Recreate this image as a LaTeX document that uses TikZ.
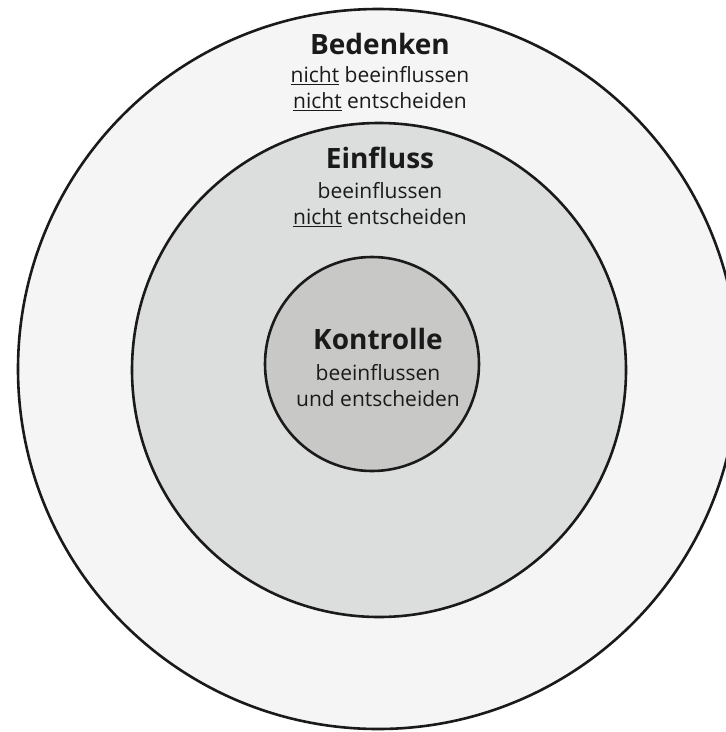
\documentclass[tikz,border=0pt]{standalone}
\usepackage{fontspec}
\setmainfont{Open Sans}
\usepackage{tikz}
\usetikzlibrary{positioning}

\definecolor{outerfill}{HTML}{F5F5F5}
\definecolor{midfill}{HTML}{DCDEDD}
\definecolor{innerfill}{HTML}{C8C9C7}
\definecolor{ink}{HTML}{1A1A1A}

\begin{document}
\begin{tikzpicture}
	[
		x=1pt, y=-1pt,
		ring/.style = {circle, draw=ink, line width=2.6pt, inner sep=0pt},
		H/.style = {align=center, text=ink, font=\bfseries\fontsize{28}{30}\selectfont},
		T/.style = {align=center, text=ink, font=\fontsize{21}{26}\selectfont},
	]

	\useasboundingbox[fill=white] (0,0) rectangle (726,732);
	\clip (0,0) rectangle (726,732);

	% circles
	\node[ring, fill=outerfill, minimum size=720pt] (bedenken) 	at (378, 369) {};
	\node[ring, fill=midfill, minimum size=494pt] (einfluss) 	at (379, 370) {};
	\node[ring, fill=innerfill, minimum size=214pt] (kontrolle) 	at (372, 364) {};

	% outer ring
	\node[H] (hB) 	at (380, 44) {Bedenken};
	\node[T] (tB) 	at (380, 89) {\underline{nicht} beeinflussen\\\underline{nicht} entscheiden};

	% middle ring
	\node[H] (hE) 	at (380, 158) {Einfluss};
	\node[T] (tE) 	at (380, 205) {beeinflussen\\\underline{nicht} entscheiden};

	% inner circle
	\node[H] (hK) 	at (378, 339) {Kontrolle};
	\node[T] (tK) 	at (378, 386) {beeinflussen\\und entscheiden};

\end{tikzpicture}
\end{document}
